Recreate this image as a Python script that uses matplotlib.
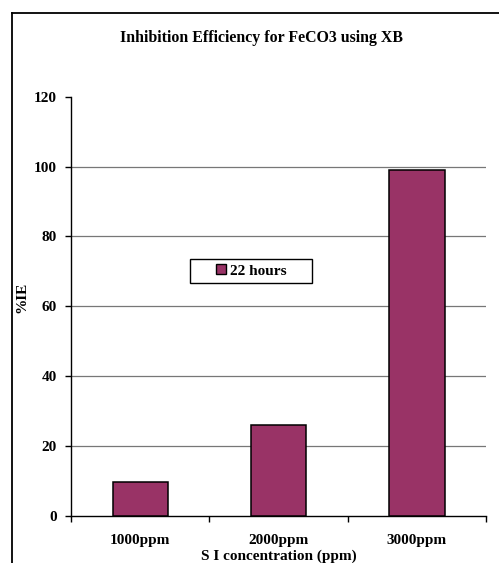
import matplotlib
matplotlib.use("Agg")
import matplotlib.pyplot as plt
from matplotlib.lines import Line2D
from matplotlib.patches import Patch, Rectangle

# Data
categories = ["1000ppm", "2000ppm", "3000ppm"]
ie_22h = [9.6, 26.0, 99.0]
series_label = "22 hours"
y_ticks = [0, 20, 40, 60, 80, 100, 120]

W, H = 499, 563
FS = 11
plt.rcParams["font.family"] = ["Liberation Serif", "DejaVu Serif"]
plt.rcParams["font.weight"] = "bold"

fig = plt.figure(figsize=(W / 100, H / 100), dpi=100)
fig.patch.set_facecolor("white")

def fx(px):
    return px / W

def fy(py):
    return 1 - py / H

# chart-area border (left and top edges visible)
fig.add_artist(Line2D([fx(12), fx(12)], [fy(13), 0], transform=fig.transFigure, color="black", lw=1.3))
fig.add_artist(Line2D([fx(12), 1], [fy(13), fy(13)], transform=fig.transFigure, color="black", lw=1.3))

ax = fig.add_axes([fx(71), fy(516), fx(486) - fx(71), fy(96.7) - fy(516)])
x = list(range(len(categories)))
ax.bar(x, ie_22h, width=0.4, color="#993366", edgecolor="black", linewidth=1.1, zorder=3)

ax.set_xlim(-0.5, len(categories) - 0.5)
ax.set_ylim(0, 120)
ax.set_yticks(y_ticks)
ax.set_yticklabels([str(t) for t in y_ticks], fontsize=FS, fontweight="bold")
for t in y_ticks[1:-1]:
    ax.axhline(t, color="#777777", lw=0.9, zorder=1)

ax.set_xticks(x)
ax.set_xticklabels(categories, fontsize=FS, fontweight="bold")
ax.set_xticks([i - 0.5 for i in range(len(categories) + 1)], minor=True)
ax.tick_params(axis="x", which="major", length=0, pad=13)
ax.tick_params(axis="x", which="minor", length=4, width=1, direction="out")
ax.tick_params(axis="y", length=4, width=1, direction="out", pad=6)

for s in ["top", "right"]:
    ax.spines[s].set_visible(False)
ax.spines["left"].set_linewidth(1.0)
ax.spines["bottom"].set_linewidth(1.0)

ax.set_xlabel("S I concentration (ppm)", fontsize=FS, fontweight="bold", labelpad=2)
fig.text(fx(22), fy(297), "%IE", rotation=90, ha="center", va="center", fontsize=FS, fontweight="bold")
fig.text(fx(262), fy(38), "Inhibition Efficiency for FeCO3 using XB", ha="center", va="center",
         fontsize=11.4, fontweight="bold")

# legend: entry without frame plus a plain rectangular box
fig.add_artist(Rectangle((fx(190), fy(283)), fx(312) - fx(190), fy(259) - fy(283),
                         transform=fig.transFigure, facecolor="white", edgecolor="black", lw=1.0, zorder=5))
handle = Patch(facecolor="#993366", edgecolor="black", linewidth=1.0)
leg = fig.legend([handle], [series_label], loc="center left",
                 bbox_to_anchor=(fx(216), fy(271)), bbox_transform=fig.transFigure,
                 frameon=False, handlelength=0.65, handleheight=0.65,
                 handletextpad=0.28, borderpad=0, borderaxespad=0,
                 prop={"size": FS, "weight": "bold"})
leg.set_zorder(6)

fig.savefig("out.png", dpi=100)
